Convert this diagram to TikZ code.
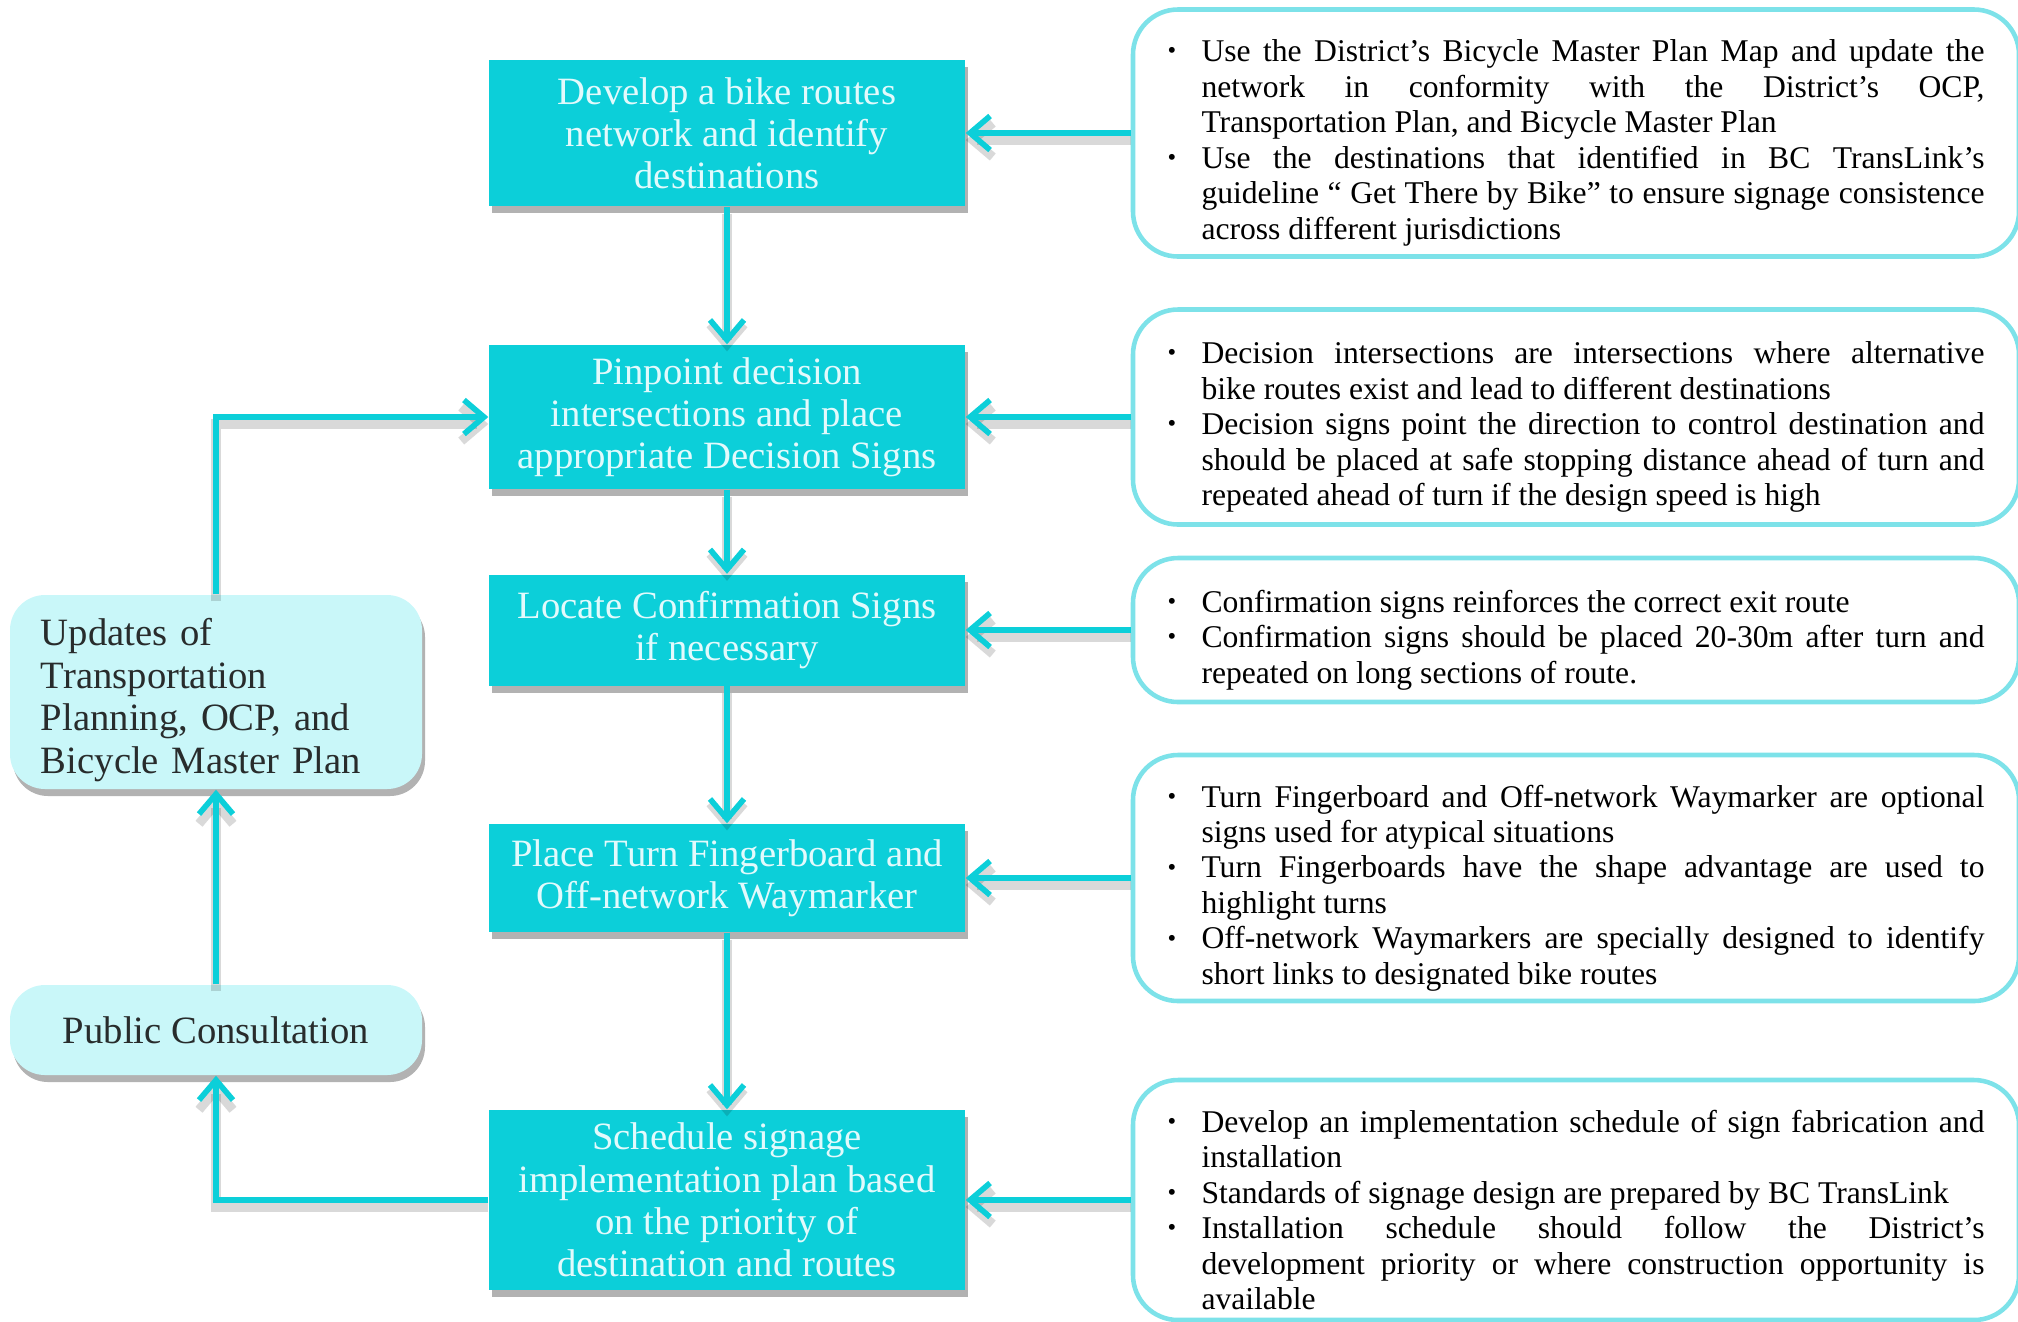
\documentclass[tikz,border=0pt]{standalone}
\usepackage{fontspec}
\setmainfont{Liberation Serif}
\usetikzlibrary{positioning,arrows.meta,shadows}

\definecolor{stepcyan}{RGB}{12,207,217}
\definecolor{notecyan}{RGB}{125,226,233}
\definecolor{sidecyan}{RGB}{201,247,249}
\definecolor{steptext}{RGB}{226,250,252}
\definecolor{sidetext}{RGB}{40,44,44}

\hyphenpenalty=10000
\exhyphenpenalty=10000
\tolerance=9999
\emergencystretch=1em

% one bullet point of a note
\newcommand{\bul}[1]{\noindent\hangindent=0.34cm\hangafter=1%
  \makebox[0.34cm][l]{\raisebox{0.2ex}{\scriptsize\textbullet}}#1\par}

\begin{document}
\begin{tikzpicture}[node distance=1.65cm,>={Straight Barb[length=2mm,width=3.4mm]},
  stepbox/.style={fill=stepcyan,text=steptext,minimum width=4.76cm,align=center,
    font=\fontsize{11}{12}\selectfont,
    drop shadow={shadow xshift=0.3mm,shadow yshift=-0.7mm,opacity=0.3,fill=black}},
  notebox/.style={draw=notecyan,line width=1.3pt,rounded corners=0.45cm,fill=white,
    text width=8.17cm,inner xsep=0.345cm,inner ysep=0.05cm,align=justify,
    font=\fontsize{9}{10.1}\selectfont,execute at end node={\endgraf\vspace*{-0.2cm}}},
  sidebox/.style={fill=sidecyan,rounded corners=0.35cm,text=sidetext,
    font=\fontsize{11}{12.2}\selectfont,
    drop shadow={shadow xshift=0.3mm,shadow yshift=-0.7mm,opacity=0.3,fill=black}},
  flow/.style={draw=stepcyan,line width=1.6pt,->,
    preaction={draw=black,opacity=0.15,line width=2.6pt,transform canvas={yshift=-0.7mm}}}]

  \useasboundingbox (0,0) rectangle (20.18,-13.21);

  % main steps
  \node[stepbox,minimum height=1.46cm] (s1) at (7.27,-1.33)
    {Develop a bike routes\\network and identify\\destinations};
  \node[stepbox,minimum height=1.44cm] (s2) at (7.27,-4.17)
    {Pinpoint decision\\intersections and place\\appropriate Decision Signs};
  \node[stepbox,minimum height=1.11cm] (s3) at (7.27,-6.30)
    {Locate Confirmation Signs\\if necessary};
  \node[stepbox,minimum height=1.08cm] (s4) at (7.27,-8.78)
    {Place Turn Fingerboard and\\Off-network Waymarker};
  \node[stepbox,minimum height=1.80cm] (s5) at (7.27,-12.00)
    {Schedule signage\\implementation plan based\\on the priority of\\destination and routes};

  % notes on the right
  \node[notebox,minimum height=2.47cm,right=of s1] (n1) {%
    \bul{Use the District's Bicycle Master Plan Map and update the\linebreak network in conformity with the District's OCP,\linebreak Transportation Plan, and Bicycle Master Plan}
    \bul{Use the destinations that identified in BC TransLink's\linebreak guideline `` Get There by Bike'' to ensure signage consistence\linebreak across different jurisdictions}};
  \node[notebox,minimum height=2.15cm,right=of s2] (n2) {%
    \bul{Decision intersections are intersections where alternative\linebreak bike routes exist and lead to different destinations}
    \bul{Decision signs point the direction to control destination and\linebreak should be placed at safe stopping distance ahead of turn and\linebreak repeated ahead of turn if the design speed is high}};
  \node[notebox,minimum height=1.44cm,right=of s3] (n3) {%
    \bul{Confirmation signs reinforces the correct exit route}
    \bul{Confirmation signs should be placed 20-30m after turn and\linebreak repeated on long sections of route.}};
  \node[notebox,minimum height=2.46cm,right=of s4] (n4) {%
    \bul{Turn Fingerboard and Off-network Waymarker are optional\linebreak signs used for atypical situations}
    \bul{Turn Fingerboards have the shape advantage are used to\linebreak highlight turns}
    \bul{Off-network Waymarkers are specially designed to identify\linebreak short links to designated bike routes}};
  \node[notebox,minimum height=2.40cm,right=of s5] (n5) {%
    \bul{Develop an implementation schedule of sign fabrication and\linebreak installation}
    \bul{Standards of signage design are prepared by BC TransLink}
    \bul{Installation schedule should follow the District's\linebreak development priority or where construction opportunity is\linebreak available}};

  % feedback loop on the left
  \node[sidebox,text width=3.5cm,inner xsep=0.31cm,minimum height=1.94cm,align=left,
    execute at end node={\endgraf\vspace*{-0.16cm}}] (upd) at (2.16,-6.92)
    {Updates of\\Transportation\\Planning, OCP, and\\Bicycle Master Plan};
  \node[sidebox,minimum width=4.12cm,minimum height=0.90cm] (pub) at (2.16,-10.30)
    {Public Consultation};

  \draw[flow] (s1) -- (s2);
  \draw[flow] (s2) -- (s3);
  \draw[flow] (s3) -- (s4);
  \draw[flow] (s4) -- (s5);

  \draw[flow] (n1) -- (s1);
  \draw[flow] (n2) -- (s2);
  \draw[flow] (n3) -- (s3);
  \draw[flow] (n4) -- (s4);
  \draw[flow] (n5) -- (s5);

  \draw[flow] (s5.west) -| (pub.south);
  \draw[flow] (pub) -- (upd);
  \draw[flow] (upd.north) |- (s2.west);
\end{tikzpicture}
\end{document}
